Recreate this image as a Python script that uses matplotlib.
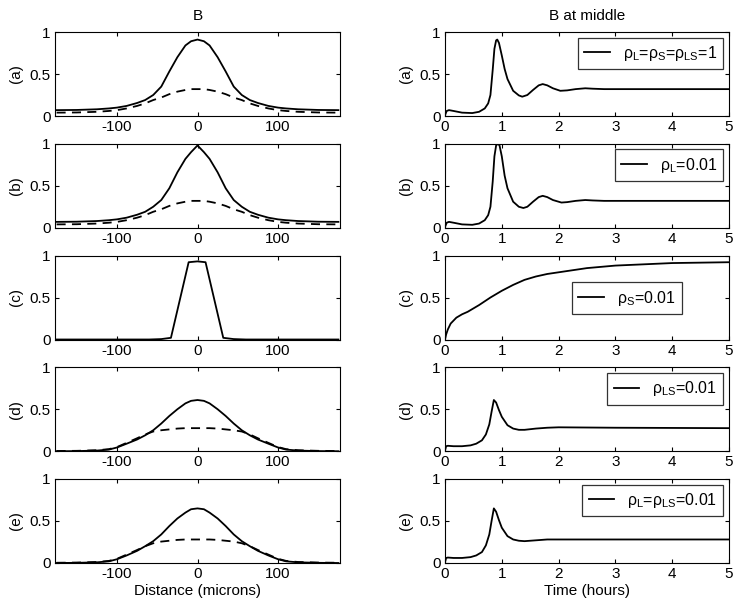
import matplotlib
matplotlib.use("Agg")
import matplotlib.pyplot as plt

plt.rcParams['font.family'] = ['Liberation Sans', 'DejaVu Sans']
plt.rcParams['mathtext.fontset'] = 'custom'
plt.rcParams['mathtext.rm'] = 'Liberation Sans'
plt.rcParams['mathtext.it'] = 'Liberation Sans'
plt.rcParams['font.size'] = 11
plt.rcParams['axes.unicode_minus'] = False

# ---- left column: B vs distance ----
dist = [-175, -150, -125, -110, -100, -88, -75, -65, -55, -45, -35, -25, -15, -8, 0,
        8, 15, 25, 35, 45, 55, 65, 75, 88, 100, 110, 125, 150, 175]

a_solid = [0.07, 0.072, 0.08, 0.09, 0.10, 0.12, 0.155, 0.19, 0.25, 0.35, 0.53, 0.70, 0.84, 0.89, 0.91,
           0.89, 0.84, 0.70, 0.53, 0.35, 0.25, 0.19, 0.155, 0.12, 0.10, 0.09, 0.08, 0.072, 0.07]
a_dash = [0.04, 0.042, 0.05, 0.06, 0.07, 0.09, 0.12, 0.15, 0.19, 0.22, 0.26, 0.29, 0.31, 0.32, 0.32,
          0.32, 0.31, 0.29, 0.26, 0.22, 0.19, 0.15, 0.12, 0.09, 0.07, 0.06, 0.05, 0.042, 0.04]
b_solid = [0.07, 0.072, 0.08, 0.09, 0.10, 0.12, 0.155, 0.19, 0.25, 0.33, 0.47, 0.66, 0.82, 0.90, 0.98,
           0.90, 0.82, 0.66, 0.47, 0.33, 0.25, 0.19, 0.155, 0.12, 0.10, 0.09, 0.08, 0.072, 0.07]
b_dash = a_dash
d_solid = [0.0, 0.002, 0.008, 0.02, 0.045, 0.09, 0.14, 0.19, 0.25, 0.33, 0.42, 0.50, 0.57, 0.60, 0.61,
           0.60, 0.57, 0.50, 0.42, 0.33, 0.25, 0.19, 0.14, 0.09, 0.045, 0.02, 0.008, 0.002, 0.0]
d_dash = [0.003, 0.005, 0.012, 0.025, 0.05, 0.10, 0.155, 0.20, 0.235, 0.25, 0.26, 0.27, 0.275, 0.275, 0.275,
          0.275, 0.275, 0.27, 0.26, 0.25, 0.235, 0.20, 0.155, 0.10, 0.05, 0.025, 0.012, 0.005, 0.003]
e_solid = [0.0, 0.002, 0.008, 0.02, 0.045, 0.09, 0.145, 0.20, 0.26, 0.34, 0.44, 0.53, 0.60, 0.64, 0.65,
           0.64, 0.60, 0.53, 0.44, 0.34, 0.26, 0.20, 0.145, 0.09, 0.045, 0.02, 0.008, 0.002, 0.0]
e_dash = [0.003, 0.005, 0.012, 0.025, 0.05, 0.10, 0.155, 0.20, 0.235, 0.255, 0.265, 0.275, 0.28, 0.28, 0.28,
          0.28, 0.28, 0.275, 0.265, 0.255, 0.235, 0.20, 0.155, 0.10, 0.05, 0.025, 0.012, 0.005, 0.003]

c_dist = [-175, -60, -45, -33, -11, 0, 10, 32, 45, 60, 175]
c_solid = [0.0, 0.0, 0.005, 0.02, 0.92, 0.93, 0.92, 0.02, 0.005, 0.0, 0.0]

# ---- right column: B at middle vs time ----
ta = [0, 0.03, 0.07, 0.15, 0.3, 0.48, 0.6, 0.7, 0.76, 0.8, 0.84, 0.87, 0.9, 0.92, 0.95, 1.0, 1.05,
      1.1, 1.2, 1.3, 1.36, 1.45, 1.55, 1.65, 1.72, 1.8, 1.9, 2.03, 2.15, 2.3, 2.47, 2.6, 2.8, 3.0, 5.0]
ya = [0.01, 0.06, 0.07, 0.06, 0.04, 0.035, 0.05, 0.09, 0.15, 0.25, 0.55, 0.80, 0.90, 0.91, 0.87, 0.72, 0.56,
      0.44, 0.30, 0.245, 0.23, 0.25, 0.31, 0.365, 0.38, 0.365, 0.33, 0.30, 0.305, 0.32, 0.33, 0.325, 0.32, 0.32, 0.32]
tb = [0, 0.03, 0.07, 0.15, 0.3, 0.48, 0.6, 0.7, 0.76, 0.8, 0.84, 0.87, 0.9, 0.93, 0.96, 1.0, 1.05,
      1.1, 1.2, 1.3, 1.38, 1.45, 1.55, 1.65, 1.72, 1.8, 1.9, 2.05, 2.15, 2.3, 2.47, 2.6, 2.8, 3.0, 5.0]
yb = [0.01, 0.06, 0.07, 0.06, 0.04, 0.035, 0.05, 0.09, 0.15, 0.25, 0.55, 0.85, 0.98, 1.0, 0.98, 0.85, 0.62,
      0.47, 0.31, 0.25, 0.235, 0.25, 0.31, 0.365, 0.38, 0.365, 0.33, 0.30, 0.305, 0.32, 0.33, 0.325, 0.32, 0.32, 0.32]
tc = [0, 0.02, 0.05, 0.1, 0.2, 0.3, 0.4, 0.6, 0.8, 1.0, 1.2, 1.4, 1.6, 1.8, 2.0, 2.5, 3.0, 3.5, 4.0, 4.5, 5.0]
yc = [0.0, 0.06, 0.12, 0.19, 0.26, 0.30, 0.33, 0.41, 0.50, 0.58, 0.65, 0.71, 0.75, 0.78, 0.80, 0.85, 0.88,
      0.895, 0.91, 0.915, 0.92]
td = [0, 0.02, 0.05, 0.15, 0.3, 0.45, 0.55, 0.65, 0.72, 0.78, 0.82, 0.86, 0.9, 0.95, 1.0, 1.1, 1.2, 1.3,
      1.4, 1.6, 1.8, 2.0, 3.0, 5.0]
yd = [0.01, 0.06, 0.065, 0.06, 0.06, 0.07, 0.09, 0.13, 0.20, 0.32, 0.47, 0.61, 0.58, 0.49, 0.41, 0.31,
      0.27, 0.255, 0.255, 0.27, 0.28, 0.285, 0.28, 0.275]
te = [0, 0.02, 0.05, 0.15, 0.3, 0.45, 0.55, 0.65, 0.72, 0.78, 0.82, 0.86, 0.9, 0.95, 1.0, 1.1, 1.2, 1.3,
      1.4, 1.6, 1.8, 2.0, 3.0, 5.0]
ye = [0.01, 0.06, 0.065, 0.06, 0.06, 0.07, 0.09, 0.13, 0.21, 0.34, 0.50, 0.65, 0.61, 0.51, 0.42, 0.32,
      0.28, 0.265, 0.26, 0.27, 0.28, 0.28, 0.28, 0.28]

row_labels = ['(a)', '(b)', '(c)', '(d)', '(e)']
left_solid = [(dist, a_solid), (dist, b_solid), (c_dist, c_solid), (dist, d_solid), (dist, e_solid)]
left_dash = [(dist, a_dash), (dist, b_dash), None, (dist, d_dash), (dist, e_dash)]
right_lines = [(ta, ya), (tb, yb), (tc, yc), (td, yd), (te, ye)]
legend_text = [r'$\rho_L$=$\rho_S$=$\rho_{LS}$=1', r'$\rho_L$=0.01', r'$\rho_S$=0.01',
               r'$\rho_{LS}$=0.01', r'$\rho_L$=$\rho_{LS}$=0.01']

W, H = 744, 611
fig = plt.figure(figsize=(W / 100, H / 100), dpi=100)


def style(ax):
    ax.tick_params(direction='in', top=True, right=True, length=3, labelsize=11, pad=3)
    ax.set_ylim(0, 1)
    ax.set_yticks([0, 0.5, 1])
    ax.set_yticklabels(['0', '0.5', '1'])
    for s in ax.spines.values():
        s.set_linewidth(0.8)


for i in range(5):
    bottom_px = 116 + 111.75 * i
    b = 1 - bottom_px / H
    h = 84 / H

    axl = fig.add_axes([55 / W, b, 285 / W, h])
    x, y = left_solid[i]
    axl.plot(x, y, color='black', lw=1.3)
    if left_dash[i] is not None:
        x, y = left_dash[i]
        axl.plot(x, y, color='black', lw=1.3, ls=(0, (5, 3.5)))
    axl.set_xlim(-177, 177)
    axl.set_xticks([-100, 0, 100])
    style(axl)
    axl.set_ylabel(row_labels[i], labelpad=5)

    axr = fig.add_axes([445 / W, b, 284 / W, h])
    x, y = right_lines[i]
    axr.plot(x, y, color='black', lw=1.3, label=legend_text[i])
    axr.set_xlim(0, 5)
    axr.set_xticks([0, 1, 2, 3, 4, 5])
    style(axr)
    axr.set_ylabel(row_labels[i], labelpad=5)
    if i == 2:
        leg = axr.legend(loc='center', bbox_to_anchor=(0.64, 0.49), fancybox=False,
                         handlelength=1.6, fontsize=11.5, borderpad=0.4)
    else:
        leg = axr.legend(loc='upper right', fancybox=False, handlelength=1.6,
                         fontsize=11.5, borderpad=0.4, borderaxespad=0.35)
    leg.get_frame().set_edgecolor('black')
    leg.get_frame().set_linewidth(0.9)

    if i == 0:
        axl.set_title('B', fontsize=11, pad=9)
        axr.set_title('B at middle', fontsize=11, pad=9)
    if i == 4:
        axl.set_xlabel('Distance (microns)', labelpad=2)
        axr.set_xlabel('Time (hours)', labelpad=2)

fig.savefig('out.png', dpi=100)
